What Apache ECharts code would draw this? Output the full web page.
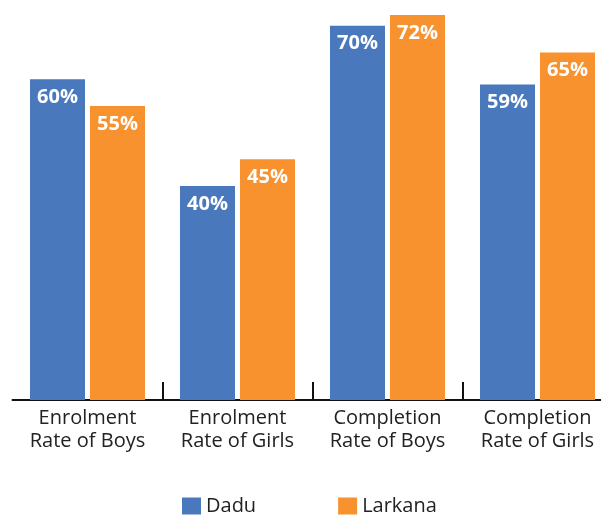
<!DOCTYPE html>
<html><head><meta charset="utf-8">
<script src="https://cdn.jsdelivr.net/npm/echarts@6/dist/echarts.min.js"></script>
<style>html,body{margin:0;padding:0;background:#fff}#c{width:601px;height:515px}</style>
</head><body><div id="c"></div>
<script>
const categories = ['Enrolment\nRate of Boys', 'Enrolment\nRate of Girls', 'Completion\nRate of Boys', 'Completion\nRate of Girls'];
const seriesNames = ['Dadu', 'Larkana'];
const dadu = [60, 40, 70, 59];
const larkana = [55, 45, 72, 65];
const colors = ['#4A78BD', '#F7922F'];

const chart = echarts.init(document.getElementById('c'));
const font = 'Open Sans';
function mk(name, data, color) {
  return {
    name, type: 'bar', data, barWidth: 55, barGap: '9.1%',
    itemStyle: { color },
    label: { show: true, position: 'insideTop', distance: 8, color: '#fff', fontWeight: 'bold', fontSize: 20, fontFamily: font, formatter: '{c}%' }
  };
}
chart.setOption({
  animation: false,
  grid: { left: 12.5, top: 0, right: -11.5, bottom: 115, outerBoundsMode: 'none', containLabel: false },
  legend: {
    top: 496, left: 182, padding: 0, itemWidth: 19, itemHeight: 17, itemGap: 82, icon: 'rect',
    textStyle: { fontSize: 20, lineHeight: 20, color: '#222', fontFamily: font }
  },
  xAxis: {
    type: 'category', data: categories,
    axisLine: { lineStyle: { color: '#111', width: 2 } },
    axisTick: { show: true, inside: true, length: 18, interval: (i) => i !== 0, lineStyle: { color: '#111', width: 2 } },
    axisLabel: { interval: 0, fontSize: 20, color: '#222', fontFamily: font, lineHeight: 23, margin: 7 }
  },
  yAxis: { type: 'value', min: 0, max: 74.8, show: false, splitLine: { show: false } },
  series: [mk(seriesNames[0], dadu, colors[0]), mk(seriesNames[1], larkana, colors[1])]
});
</script></body></html>
